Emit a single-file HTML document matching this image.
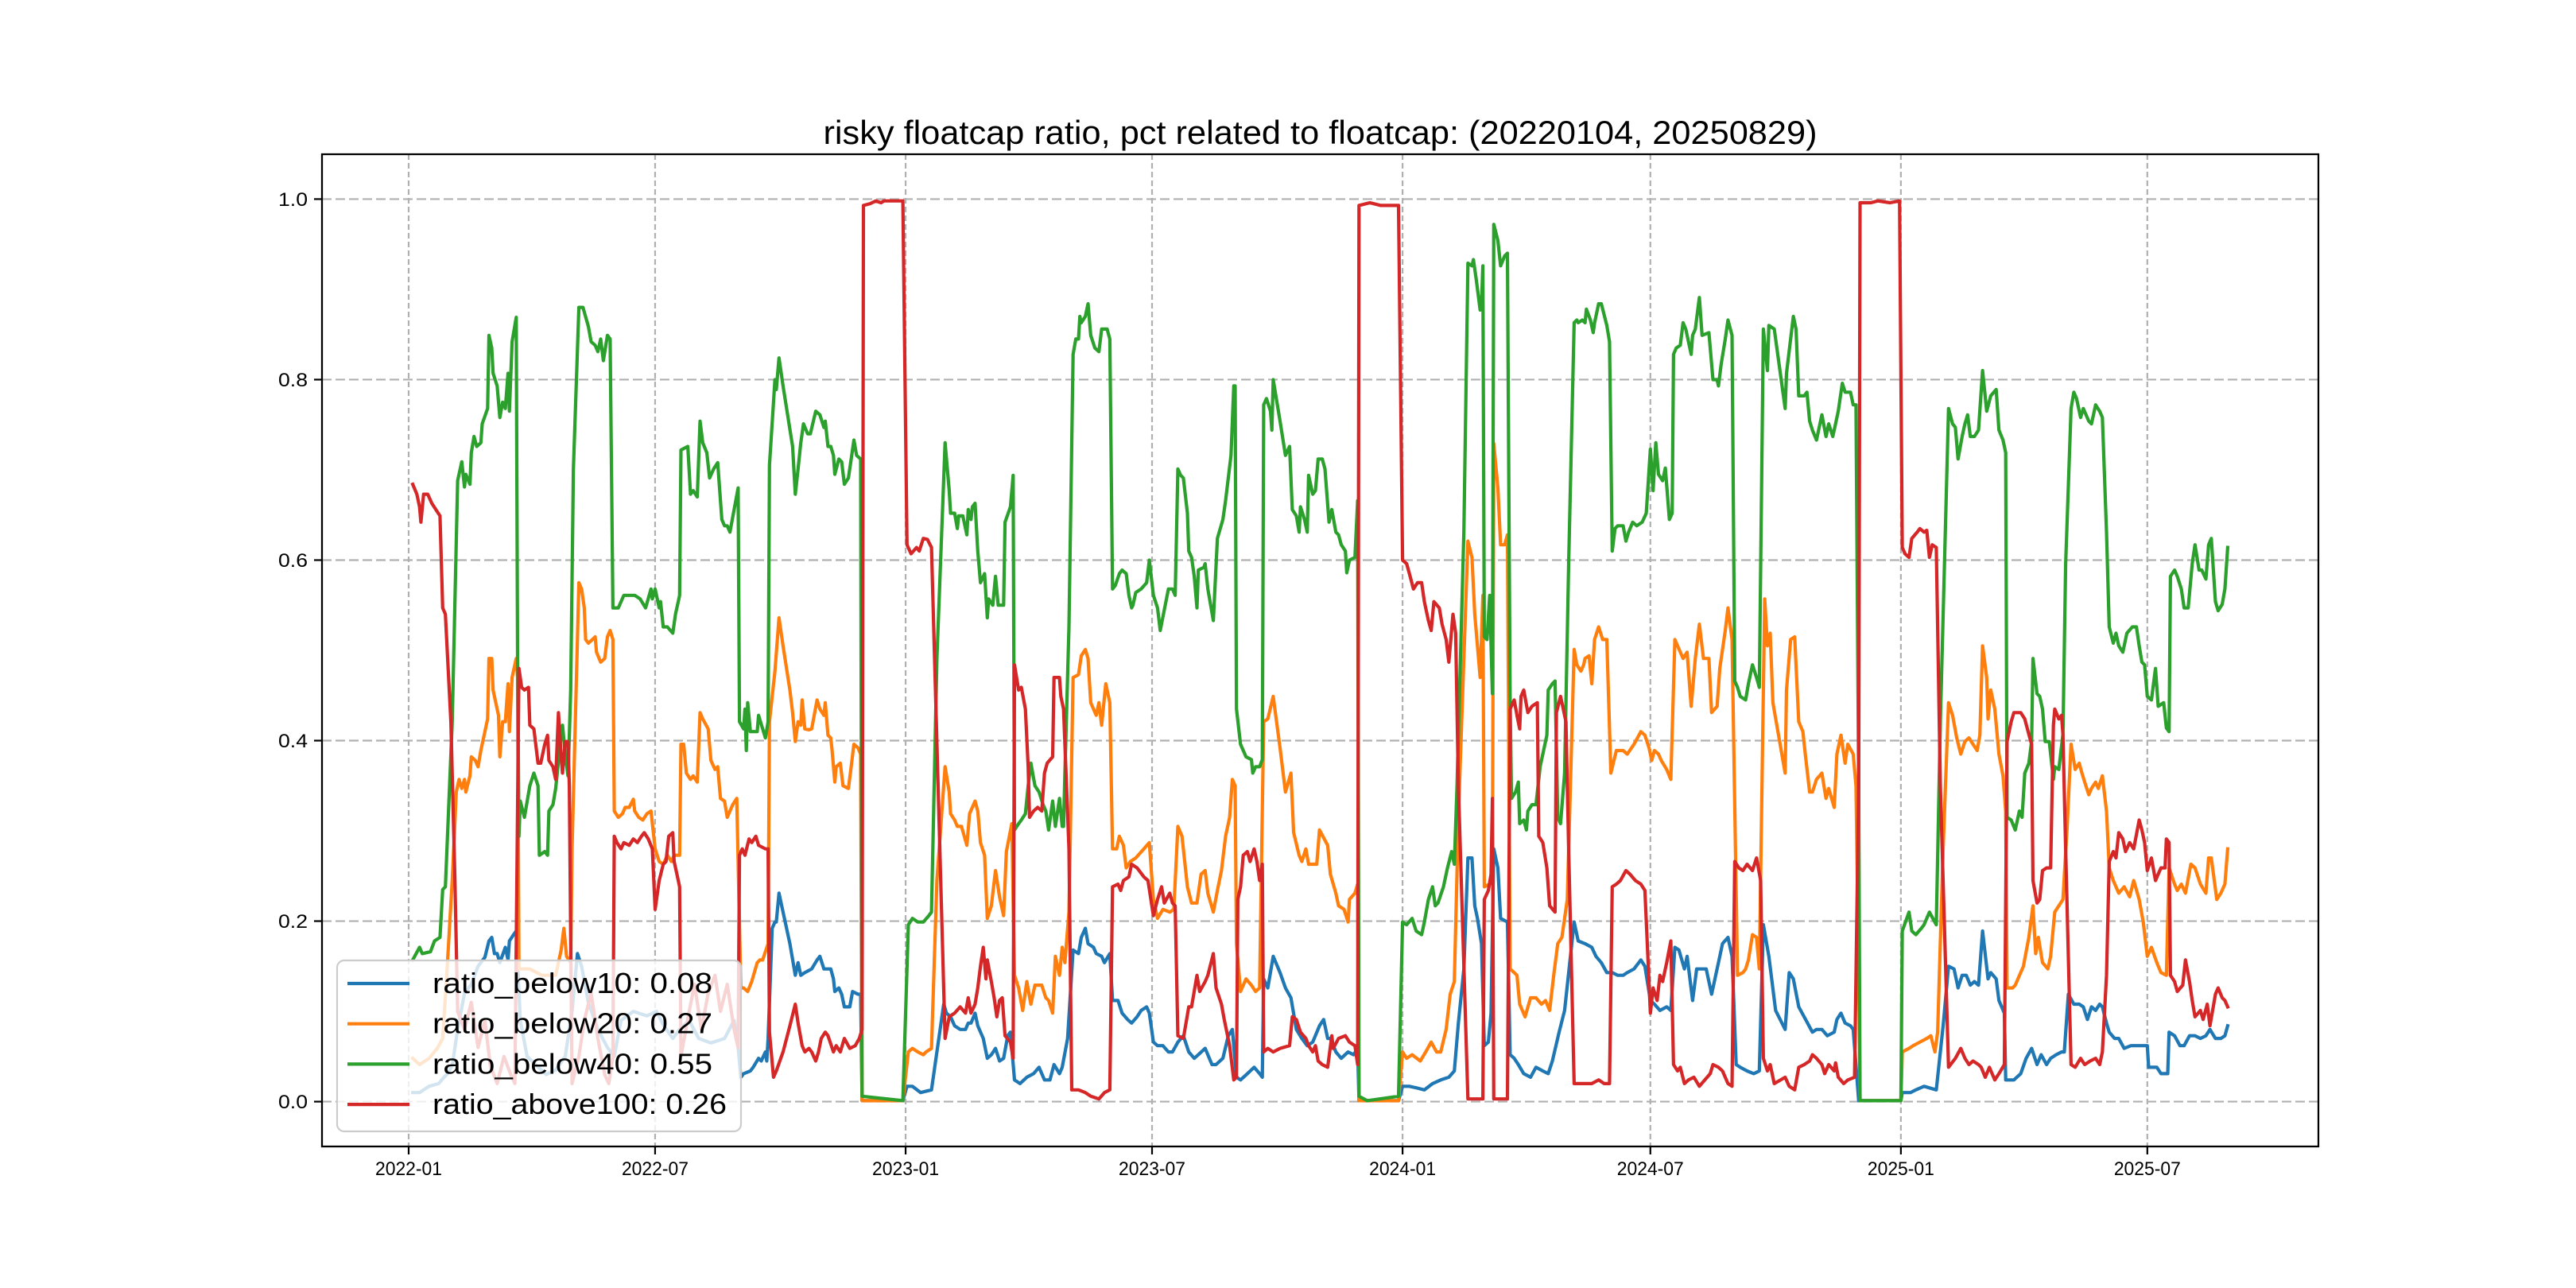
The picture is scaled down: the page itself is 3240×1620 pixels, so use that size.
<!DOCTYPE html>
<html>
<head>
<meta charset="utf-8">
<style>
html,body{margin:0;padding:0;background:#fff;}
svg{display:block;}
text{font-family:"Liberation Sans","Noto Sans CJK SC",sans-serif;fill:#000;}
</style>
</head>
<body>
<svg id="chart" xmlns="http://www.w3.org/2000/svg" width="3240" height="1620" viewBox="0 0 3240 1620">
<rect x="0" y="0" width="3240" height="1620" fill="#ffffff"/>
<defs><clipPath id="plotclip"><rect x="405" y="194" width="2511" height="1248"/></clipPath></defs>
<g id="grid"></g>
<g id="series" clip-path="url(#plotclip)"></g>
<rect x="405" y="194" width="2511" height="1248" fill="none" stroke="#000" stroke-width="2.25"/>
<g id="ticks"></g>
<text x="1660.5" y="181" font-size="42" text-anchor="middle" textLength="1250" lengthAdjust="spacingAndGlyphs">risky floatcap ratio, pct related to floatcap: (20220104, 20250829)</text>
<g id="legend"></g>
</svg>
<script>
const startDate = "2022-01-04";
const xTickLabels = ["2022-01","2022-07","2023-01","2023-07","2024-01","2024-07","2025-01","2025-07"];
const yTickValues = [0, 0.2, 0.4, 0.6, 0.8, 1.0];
const yTickLabels = ["0.0","0.2","0.4","0.6","0.8","1.0"];
const seriesNames = ["ratio_below10","ratio_below20","ratio_below40","ratio_above100"];
const legendValues = ["0.08","0.27","0.55","0.26"];
const seriesColors = ["#1f77b4","#ff7f0e","#2ca02c","#d62728"];

// [days since startDate, value]
const below10 = [[0,0.010],[5,0.010],[12,0.017],[19,0.020],[23,0.027],[25,0.03],[29,0.04],[33,0.08],[38,0.12],[43,0.13],[48,0.15],[53,0.16],[56,0.178],[58,0.182],[60,0.164],[62,0.164],[64,0.154],[68,0.171],[70,0.157],[71,0.178],[74,0.185],[76,0.189],[79,0.09],[84,0.05],[91,0.04],[98,0.03],[105,0.035],[112,0.05],[117,0.10],[121,0.164],[124,0.15],[129,0.11],[136,0.08],[143,0.06],[148,0.05],[153,0.09],[162,0.10],[172,0.095],[179,0.10],[184,0.085],[191,0.07],[196,0.08],[203,0.09],[210,0.07],[219,0.065],[229,0.07],[236,0.09],[239,0.06],[241,0.027],[243,0.031],[248,0.034],[250,0.038],[254,0.048],[256,0.045],[259,0.055],[260,0.045],[261,0.070],[264,0.192],[266,0.199],[267,0.199],[269,0.231],[272,0.210],[277,0.175],[281,0.140],[283,0.154],[285,0.140],[288,0.143],[293,0.147],[297,0.157],[299,0.161],[302,0.147],[307,0.147],[309,0.136],[310,0.122],[313,0.126],[315,0.119],[317,0.105],[321,0.105],[323,0.122],[327,0.119],[329,0.119],[330,0.001],[360,0.001],[363,0.017],[367,0.017],[373,0.010],[381,0.013],[385,0.055],[390,0.108],[392,0.098],[395,0.094],[398,0.084],[402,0.080],[406,0.080],[408,0.087],[410,0.087],[413,0.098],[415,0.084],[419,0.070],[422,0.048],[425,0.052],[428,0.059],[431,0.045],[434,0.048],[437,0.073],[439,0.077],[442,0.024],[446,0.020],[451,0.027],[456,0.031],[460,0.038],[464,0.024],[468,0.024],[471,0.041],[475,0.031],[477,0.038],[481,0.070],[485,0.168],[489,0.164],[491,0.182],[494,0.192],[496,0.175],[500,0.171],[502,0.164],[506,0.161],[508,0.154],[512,0.164],[514,0.112],[518,0.112],[521,0.098],[525,0.091],[528,0.087],[532,0.094],[535,0.101],[539,0.105],[541,0.098],[544,0.066],[547,0.062],[551,0.062],[555,0.055],[558,0.055],[562,0.066],[566,0.073],[570,0.055],[574,0.048],[577,0.052],[582,0.059],[587,0.041],[590,0.041],[595,0.048],[599,0.073],[602,0.080],[605,0.027],[608,0.024],[613,0.031],[618,0.038],[622,0.031],[624,0.027],[625,0.136],[628,0.126],[632,0.161],[637,0.143],[641,0.126],[645,0.115],[649,0.080],[653,0.070],[657,0.062],[661,0.066],[666,0.084],[669,0.091],[672,0.070],[674,0.070],[678,0.055],[682,0.048],[687,0.055],[691,0.052],[694,0.059],[695,0.001],[724,0.001],[727,0.017],[732,0.017],[738,0.015],[743,0.013],[749,0.020],[755,0.024],[761,0.027],[765,0.034],[768,0.087],[772,0.147],[775,0.270],[778,0.270],[780,0.217],[782,0.203],[785,0.175],[787,0.062],[790,0.066],[792,0.098],[794,0.280],[797,0.259],[799,0.203],[804,0.199],[806,0.052],[809,0.048],[812,0.041],[816,0.031],[821,0.027],[825,0.038],[830,0.034],[834,0.031],[837,0.045],[842,0.077],[846,0.101],[853,0.199],[856,0.178],[861,0.175],[866,0.171],[869,0.161],[873,0.154],[877,0.143],[881,0.143],[885,0.140],[889,0.140],[892,0.143],[897,0.147],[902,0.157],[905,0.150],[909,0.112],[912,0.108],[916,0.101],[921,0.105],[924,0.101],[927,0.171],[930,0.168],[934,0.147],[936,0.161],[940,0.112],[943,0.147],[947,0.147],[950,0.147],[954,0.119],[959,0.154],[962,0.175],[966,0.182],[969,0.161],[972,0.041],[975,0.038],[980,0.034],[985,0.031],[989,0.034],[992,0.196],[996,0.161],[1001,0.101],[1008,0.080],[1011,0.143],[1014,0.136],[1018,0.105],[1023,0.091],[1028,0.077],[1031,0.080],[1035,0.080],[1039,0.073],[1044,0.077],[1046,0.091],[1049,0.098],[1052,0.087],[1056,0.084],[1058,0.080],[1062,0.001],[1093,0.001],[1094,0.010],[1100,0.010],[1104,0.013],[1110,0.017],[1119,0.013],[1124,0.084],[1128,0.150],[1132,0.147],[1135,0.126],[1138,0.140],[1141,0.140],[1144,0.129],[1147,0.133],[1150,0.129],[1153,0.189],[1157,0.136],[1159,0.143],[1163,0.136],[1165,0.112],[1169,0.098],[1170,0.024],[1176,0.024],[1181,0.031],[1185,0.048],[1189,0.059],[1193,0.041],[1196,0.052],[1200,0.041],[1203,0.048],[1207,0.052],[1211,0.055],[1213,0.055],[1216,0.119],[1220,0.108],[1224,0.108],[1227,0.105],[1230,0.091],[1233,0.105],[1236,0.101],[1239,0.108],[1241,0.105],[1244,0.087],[1246,0.077],[1250,0.070],[1253,0.070],[1257,0.059],[1262,0.062],[1267,0.062],[1274,0.062],[1275,0.038],[1281,0.038],[1284,0.031],[1289,0.031],[1290,0.077],[1294,0.073],[1298,0.062],[1301,0.062],[1305,0.073],[1309,0.073],[1313,0.070],[1317,0.073],[1320,0.080],[1324,0.070],[1328,0.070],[1331,0.073],[1333,0.084]];

const below20 = [[0,0.048],[5,0.041],[12,0.048],[18,0.059],[22,0.070],[25,0.140],[29,0.245],[32,0.343],[34,0.357],[36,0.347],[38,0.357],[39,0.343],[42,0.361],[43,0.382],[46,0.378],[48,0.371],[50,0.389],[53,0.410],[55,0.424],[56,0.491],[58,0.491],[59,0.456],[61,0.442],[63,0.428],[64,0.382],[66,0.421],[68,0.421],[70,0.463],[71,0.410],[73,0.470],[76,0.491],[77,0.470],[78,0.147],[86,0.147],[95,0.140],[105,0.140],[109,0.168],[111,0.192],[113,0.161],[116,0.154],[117,0.280],[122,0.575],[124,0.568],[126,0.547],[127,0.512],[129,0.508],[132,0.512],[134,0.515],[135,0.498],[138,0.487],[141,0.491],[143,0.515],[145,0.522],[147,0.512],[148,0.322],[151,0.315],[154,0.319],[156,0.326],[159,0.326],[162,0.335],[163,0.322],[166,0.315],[169,0.312],[172,0.319],[175,0.322],[178,0.280],[181,0.266],[184,0.263],[187,0.273],[190,0.266],[192,0.273],[196,0.273],[197,0.396],[199,0.396],[201,0.364],[204,0.357],[206,0.361],[209,0.354],[211,0.431],[213,0.424],[217,0.413],[219,0.378],[222,0.368],[224,0.371],[226,0.336],[229,0.333],[231,0.315],[235,0.329],[238,0.336],[241,0.126],[243,0.126],[246,0.122],[249,0.133],[253,0.154],[255,0.157],[257,0.157],[261,0.175],[262,0.421],[266,0.477],[269,0.536],[272,0.505],[277,0.456],[279,0.431],[281,0.399],[283,0.421],[285,0.417],[286,0.445],[288,0.413],[291,0.412],[293,0.413],[297,0.445],[299,0.435],[302,0.428],[303,0.442],[305,0.406],[307,0.403],[308,0.389],[310,0.354],[311,0.371],[314,0.375],[316,0.350],[320,0.347],[322,0.371],[324,0.396],[327,0.392],[329,0.385],[330,0.001],[360,0.001],[364,0.055],[367,0.059],[371,0.055],[375,0.052],[377,0.055],[381,0.059],[385,0.245],[391,0.371],[394,0.343],[395,0.319],[398,0.312],[400,0.305],[403,0.305],[407,0.284],[409,0.319],[413,0.333],[415,0.322],[417,0.287],[420,0.273],[422,0.203],[425,0.217],[428,0.256],[431,0.227],[434,0.206],[436,0.277],[440,0.308],[442,0.140],[445,0.126],[448,0.101],[451,0.133],[454,0.108],[457,0.129],[462,0.129],[465,0.115],[467,0.112],[470,0.098],[472,0.161],[475,0.140],[477,0.171],[479,0.154],[482,0.210],[485,0.470],[489,0.473],[491,0.494],[494,0.501],[496,0.491],[498,0.442],[502,0.428],[504,0.442],[506,0.417],[509,0.463],[512,0.442],[514,0.280],[517,0.280],[519,0.294],[522,0.284],[524,0.259],[527,0.266],[531,0.270],[537,0.280],[541,0.287],[544,0.224],[547,0.203],[551,0.213],[556,0.210],[559,0.213],[562,0.305],[565,0.294],[569,0.238],[572,0.220],[576,0.220],[579,0.252],[582,0.256],[584,0.231],[588,0.210],[591,0.234],[594,0.256],[597,0.294],[600,0.315],[602,0.357],[604,0.350],[605,0.175],[608,0.122],[612,0.136],[616,0.129],[619,0.122],[622,0.126],[625,0.421],[628,0.424],[632,0.449],[637,0.392],[641,0.343],[645,0.364],[647,0.298],[651,0.273],[653,0.266],[656,0.280],[658,0.263],[660,0.263],[664,0.263],[666,0.301],[672,0.284],[674,0.252],[678,0.231],[680,0.217],[684,0.213],[687,0.199],[688,0.224],[692,0.231],[694,0.241],[695,0.001],[724,0.001],[727,0.055],[730,0.048],[734,0.052],[740,0.045],[744,0.055],[748,0.066],[752,0.055],[755,0.055],[759,0.080],[762,0.119],[765,0.133],[768,0.315],[772,0.491],[775,0.621],[778,0.603],[780,0.540],[782,0.505],[784,0.470],[786,0.561],[787,0.238],[791,0.241],[793,0.252],[794,0.729],[797,0.680],[799,0.617],[802,0.617],[804,0.628],[806,0.147],[809,0.143],[811,0.140],[813,0.108],[817,0.094],[821,0.115],[825,0.115],[829,0.108],[832,0.112],[835,0.101],[838,0.140],[841,0.175],[844,0.182],[848,0.224],[853,0.501],[855,0.484],[858,0.477],[860,0.484],[861,0.491],[864,0.494],[866,0.463],[868,0.512],[871,0.526],[874,0.512],[877,0.512],[880,0.364],[884,0.389],[889,0.389],[892,0.385],[897,0.396],[902,0.410],[905,0.406],[908,0.392],[910,0.378],[912,0.389],[915,0.385],[917,0.378],[921,0.368],[924,0.357],[927,0.512],[929,0.505],[933,0.491],[936,0.498],[939,0.438],[942,0.491],[945,0.529],[948,0.491],[952,0.491],[954,0.431],[958,0.438],[960,0.480],[964,0.522],[966,0.547],[969,0.512],[973,0.140],[977,0.143],[979,0.147],[981,0.157],[984,0.185],[987,0.182],[989,0.147],[993,0.557],[995,0.505],[997,0.519],[999,0.442],[1008,0.364],[1009,0.456],[1012,0.512],[1015,0.515],[1018,0.421],[1021,0.410],[1023,0.382],[1026,0.343],[1028,0.343],[1031,0.357],[1035,0.364],[1038,0.336],[1040,0.347],[1044,0.326],[1046,0.385],[1049,0.406],[1052,0.375],[1054,0.396],[1058,0.385],[1060,0.350],[1062,0.140],[1063,0.001],[1093,0.001],[1094,0.055],[1099,0.059],[1102,0.062],[1107,0.066],[1112,0.070],[1115,0.073],[1118,0.055],[1120,0.077],[1124,0.280],[1128,0.442],[1131,0.428],[1134,0.403],[1137,0.385],[1140,0.399],[1143,0.403],[1146,0.396],[1149,0.389],[1151,0.406],[1153,0.505],[1156,0.470],[1157,0.424],[1159,0.456],[1162,0.435],[1165,0.385],[1168,0.361],[1170,0.322],[1171,0.126],[1175,0.126],[1177,0.129],[1183,0.150],[1187,0.182],[1190,0.217],[1192,0.164],[1194,0.182],[1197,0.154],[1201,0.147],[1203,0.161],[1206,0.210],[1212,0.224],[1215,0.301],[1218,0.396],[1221,0.368],[1224,0.375],[1226,0.364],[1228,0.354],[1231,0.340],[1233,0.347],[1236,0.354],[1238,0.347],[1241,0.361],[1244,0.322],[1246,0.259],[1249,0.245],[1253,0.231],[1257,0.238],[1261,0.227],[1264,0.245],[1268,0.224],[1271,0.199],[1274,0.161],[1277,0.171],[1281,0.154],[1284,0.143],[1288,0.140],[1290,0.259],[1294,0.241],[1296,0.234],[1299,0.241],[1302,0.231],[1306,0.263],[1309,0.259],[1313,0.241],[1317,0.231],[1319,0.270],[1321,0.270],[1325,0.224],[1328,0.231],[1331,0.241],[1333,0.280]];

const below40 = [[0,0.157],[5,0.171],[7,0.164],[13,0.166],[16,0.178],[20,0.182],[22,0.235],[24,0.238],[29,0.421],[33,0.688],[36,0.709],[38,0.681],[39,0.695],[42,0.684],[43,0.719],[45,0.737],[47,0.726],[50,0.730],[51,0.751],[55,0.768],[56,0.849],[58,0.835],[59,0.807],[62,0.793],[64,0.758],[66,0.775],[68,0.768],[70,0.807],[71,0.765],[73,0.842],[76,0.869],[77,0.491],[78,0.294],[79,0.333],[82,0.315],[86,0.350],[89,0.364],[92,0.350],[93,0.273],[97,0.277],[99,0.273],[100,0.322],[103,0.329],[105,0.347],[109,0.406],[110,0.417],[112,0.385],[114,0.361],[115,0.406],[116,0.456],[118,0.701],[122,0.880],[125,0.880],[129,0.859],[131,0.842],[134,0.838],[136,0.831],[138,0.845],[140,0.821],[143,0.849],[145,0.845],[147,0.547],[151,0.547],[155,0.561],[159,0.561],[163,0.561],[167,0.557],[171,0.547],[175,0.568],[176,0.557],[178,0.568],[181,0.547],[182,0.554],[184,0.526],[187,0.526],[191,0.519],[193,0.540],[196,0.561],[197,0.722],[202,0.726],[204,0.673],[206,0.677],[209,0.670],[211,0.754],[213,0.730],[216,0.719],[218,0.691],[221,0.701],[224,0.708],[227,0.645],[229,0.638],[231,0.638],[233,0.631],[239,0.680],[240,0.421],[243,0.413],[244,0.435],[245,0.389],[246,0.442],[248,0.410],[253,0.410],[254,0.428],[259,0.403],[261,0.421],[262,0.705],[266,0.800],[267,0.789],[269,0.824],[272,0.793],[279,0.726],[281,0.673],[283,0.701],[285,0.730],[287,0.751],[290,0.740],[292,0.740],[296,0.765],[299,0.761],[302,0.747],[303,0.754],[305,0.726],[307,0.726],[309,0.716],[310,0.695],[313,0.712],[315,0.709],[317,0.684],[320,0.691],[322,0.712],[324,0.733],[326,0.716],[329,0.712],[330,0.006],[360,0.001],[364,0.196],[367,0.203],[371,0.199],[375,0.199],[379,0.206],[381,0.210],[385,0.491],[391,0.730],[394,0.677],[395,0.652],[398,0.652],[400,0.635],[401,0.649],[404,0.649],[407,0.628],[408,0.656],[410,0.645],[411,0.659],[413,0.663],[415,0.610],[417,0.575],[420,0.585],[422,0.536],[423,0.557],[426,0.550],[428,0.582],[430,0.550],[434,0.550],[435,0.642],[439,0.659],[441,0.694],[442,0.301],[445,0.308],[447,0.312],[450,0.319],[452,0.350],[454,0.375],[457,0.350],[460,0.343],[463,0.329],[465,0.322],[467,0.301],[470,0.333],[472,0.305],[475,0.336],[477,0.305],[478,0.305],[479,0.364],[482,0.526],[485,0.828],[487,0.845],[489,0.845],[490,0.870],[491,0.863],[494,0.870],[496,0.884],[498,0.849],[501,0.835],[504,0.831],[506,0.856],[510,0.856],[512,0.845],[514,0.568],[516,0.572],[519,0.585],[521,0.589],[524,0.585],[526,0.561],[528,0.547],[529,0.550],[531,0.564],[535,0.568],[539,0.575],[541,0.600],[544,0.561],[547,0.547],[549,0.522],[555,0.568],[558,0.568],[560,0.561],[562,0.701],[564,0.694],[566,0.691],[569,0.652],[570,0.610],[572,0.603],[574,0.582],[576,0.547],[577,0.589],[581,0.592],[582,0.596],[584,0.568],[588,0.533],[591,0.624],[595,0.645],[597,0.666],[599,0.691],[601,0.716],[603,0.793],[604,0.793],[605,0.435],[608,0.396],[612,0.382],[616,0.379],[617,0.364],[619,0.371],[622,0.371],[624,0.379],[625,0.772],[627,0.779],[630,0.765],[631,0.744],[632,0.800],[637,0.754],[641,0.716],[644,0.726],[646,0.656],[649,0.649],[651,0.631],[652,0.659],[655,0.645],[657,0.631],[658,0.694],[661,0.673],[663,0.677],[665,0.712],[668,0.712],[670,0.701],[673,0.642],[675,0.656],[678,0.631],[680,0.628],[682,0.617],[685,0.610],[686,0.586],[688,0.600],[692,0.603],[694,0.666],[695,0.006],[701,0.001],[724,0.006],[727,0.199],[730,0.196],[734,0.203],[737,0.189],[741,0.185],[743,0.199],[746,0.224],[749,0.238],[751,0.217],[753,0.220],[757,0.238],[760,0.259],[763,0.277],[765,0.263],[767,0.350],[772,0.631],[775,0.929],[778,0.926],[779,0.933],[781,0.912],[784,0.877],[785,0.884],[786,0.926],[787,0.515],[789,0.512],[791,0.561],[793,0.452],[794,0.972],[797,0.954],[799,0.926],[802,0.937],[804,0.940],[806,0.442],[807,0.336],[810,0.343],[812,0.354],[813,0.308],[816,0.312],[818,0.301],[819,0.322],[822,0.329],[825,0.329],[828,0.371],[830,0.385],[833,0.406],[834,0.456],[837,0.463],[839,0.466],[841,0.315],[843,0.308],[846,0.364],[849,0.596],[853,0.863],[855,0.866],[856,0.863],[859,0.866],[861,0.863],[862,0.878],[865,0.866],[867,0.852],[868,0.863],[871,0.884],[873,0.884],[877,0.860],[879,0.842],[881,0.610],[883,0.635],[885,0.638],[889,0.638],[891,0.621],[893,0.631],[896,0.642],[899,0.638],[903,0.642],[906,0.652],[909,0.723],[911,0.677],[913,0.730],[915,0.695],[918,0.688],[920,0.702],[923,0.645],[925,0.652],[926,0.828],[928,0.835],[931,0.838],[933,0.863],[935,0.856],[937,0.842],[939,0.828],[940,0.849],[942,0.856],[945,0.891],[947,0.849],[952,0.852],[955,0.800],[958,0.800],[959,0.793],[961,0.817],[964,0.845],[966,0.866],[969,0.849],[971,0.466],[973,0.459],[975,0.449],[979,0.445],[981,0.463],[984,0.484],[987,0.470],[989,0.459],[992,0.856],[995,0.810],[996,0.860],[1000,0.856],[1008,0.768],[1009,0.807],[1014,0.870],[1016,0.856],[1018,0.782],[1022,0.782],[1024,0.786],[1026,0.754],[1028,0.744],[1031,0.733],[1035,0.761],[1038,0.737],[1040,0.751],[1043,0.737],[1045,0.751],[1047,0.765],[1050,0.796],[1052,0.786],[1056,0.786],[1058,0.772],[1060,0.772],[1062,0.350],[1063,0.001],[1093,0.001],[1094,0.189],[1099,0.210],[1101,0.189],[1104,0.185],[1108,0.192],[1110,0.196],[1114,0.210],[1119,0.196],[1122,0.421],[1128,0.768],[1131,0.751],[1133,0.747],[1135,0.712],[1138,0.737],[1140,0.751],[1142,0.761],[1144,0.737],[1147,0.737],[1150,0.744],[1153,0.810],[1156,0.765],[1159,0.782],[1163,0.789],[1165,0.744],[1168,0.733],[1170,0.719],[1171,0.315],[1174,0.312],[1177,0.301],[1180,0.322],[1182,0.315],[1184,0.364],[1187,0.375],[1189,0.399],[1190,0.491],[1193,0.452],[1195,0.449],[1197,0.435],[1199,0.399],[1202,0.399],[1205,0.357],[1206,0.371],[1209,0.368],[1212,0.407],[1214,0.596],[1218,0.768],[1220,0.786],[1222,0.779],[1225,0.758],[1227,0.768],[1231,0.754],[1233,0.751],[1236,0.772],[1239,0.765],[1241,0.758],[1244,0.631],[1246,0.526],[1249,0.508],[1251,0.519],[1253,0.505],[1256,0.498],[1259,0.519],[1263,0.526],[1266,0.526],[1268,0.505],[1270,0.487],[1272,0.484],[1274,0.449],[1277,0.445],[1280,0.480],[1282,0.438],[1286,0.442],[1288,0.414],[1290,0.410],[1291,0.582],[1294,0.589],[1296,0.582],[1299,0.568],[1301,0.547],[1304,0.547],[1307,0.596],[1309,0.617],[1312,0.589],[1314,0.589],[1317,0.579],[1319,0.617],[1321,0.624],[1324,0.554],[1326,0.544],[1329,0.551],[1331,0.568],[1333,0.614]];

const above100 = [[0,0.684],[3,0.673],[5,0.659],[6,0.642],[8,0.673],[11,0.673],[14,0.663],[17,0.656],[20,0.649],[22,0.547],[24,0.540],[28,0.421],[31,0.245],[33,0.10],[38,0.08],[43,0.11],[48,0.06],[53,0.09],[57,0.04],[62,0.02],[67,0.05],[72,0.03],[75,0.02],[78,0.480],[80,0.459],[82,0.456],[85,0.459],[86,0.417],[89,0.413],[92,0.375],[94,0.375],[97,0.396],[99,0.406],[100,0.378],[103,0.371],[105,0.357],[107,0.431],[109,0.382],[110,0.364],[112,0.399],[114,0.399],[115,0.350],[117,0.02],[122,0.05],[126,0.09],[131,0.12],[136,0.07],[141,0.03],[144,0.02],[147,0.05],[148,0.294],[150,0.287],[153,0.280],[155,0.287],[159,0.284],[162,0.291],[165,0.287],[168,0.294],[170,0.298],[173,0.291],[176,0.280],[178,0.213],[181,0.245],[184,0.263],[186,0.266],[188,0.294],[191,0.298],[192,0.266],[194,0.252],[196,0.238],[197,0.05],[203,0.10],[207,0.13],[212,0.08],[217,0.12],[222,0.14],[226,0.10],[231,0.13],[236,0.08],[239,0.06],[240,0.273],[242,0.280],[244,0.273],[247,0.291],[249,0.287],[252,0.294],[254,0.284],[259,0.280],[261,0.280],[262,0.077],[265,0.027],[267,0.034],[272,0.055],[277,0.084],[281,0.108],[283,0.087],[286,0.062],[288,0.055],[291,0.059],[293,0.055],[296,0.045],[298,0.055],[300,0.070],[303,0.077],[305,0.073],[309,0.055],[311,0.062],[314,0.055],[317,0.070],[321,0.059],[325,0.062],[328,0.070],[330,0.080],[331,0.993],[336,0.995],[340,0.998],[344,0.996],[346,0.998],[360,0.998],[363,0.617],[366,0.607],[370,0.614],[372,0.610],[375,0.624],[378,0.623],[381,0.614],[391,0.070],[394,0.094],[398,0.098],[402,0.105],[406,0.098],[408,0.115],[410,0.098],[413,0.108],[415,0.126],[417,0.150],[419,0.171],[421,0.136],[422,0.157],[425,0.133],[427,0.115],[429,0.094],[431,0.112],[433,0.115],[435,0.073],[439,0.066],[441,0.048],[442,0.484],[445,0.456],[447,0.459],[450,0.435],[452,0.371],[453,0.315],[456,0.322],[459,0.326],[462,0.322],[464,0.364],[466,0.375],[470,0.382],[471,0.470],[475,0.470],[476,0.449],[478,0.435],[482,0.280],[484,0.013],[489,0.013],[494,0.010],[498,0.006],[504,0.003],[508,0.010],[512,0.013],[514,0.238],[518,0.241],[520,0.234],[522,0.245],[526,0.249],[528,0.263],[532,0.259],[537,0.249],[540,0.245],[544,0.206],[547,0.224],[550,0.238],[552,0.220],[556,0.231],[558,0.220],[560,0.217],[562,0.073],[566,0.070],[570,0.105],[572,0.105],[576,0.140],[578,0.122],[582,0.133],[584,0.140],[588,0.164],[590,0.126],[594,0.108],[596,0.091],[600,0.062],[603,0.024],[605,0.027],[606,0.224],[608,0.238],[610,0.273],[613,0.277],[615,0.266],[618,0.280],[620,0.266],[622,0.245],[624,0.263],[625,0.055],[628,0.059],[632,0.055],[637,0.059],[644,0.062],[646,0.094],[649,0.091],[652,0.077],[656,0.070],[658,0.062],[661,0.055],[663,0.062],[665,0.045],[668,0.041],[672,0.038],[675,0.073],[676,0.059],[680,0.070],[685,0.073],[688,0.066],[692,0.062],[694,0.041],[695,0.993],[703,0.996],[711,0.993],[724,0.993],[727,0.600],[730,0.596],[732,0.585],[735,0.568],[738,0.575],[741,0.575],[743,0.554],[746,0.533],[748,0.522],[750,0.554],[754,0.547],[756,0.529],[759,0.512],[761,0.487],[764,0.540],[766,0.519],[768,0.350],[775,0.003],[786,0.003],[787,0.224],[790,0.234],[792,0.252],[793,0.336],[794,0.003],[804,0.003],[806,0.435],[809,0.445],[811,0.428],[813,0.413],[814,0.449],[816,0.456],[819,0.431],[822,0.438],[826,0.442],[827,0.294],[830,0.287],[833,0.259],[835,0.217],[839,0.210],[840,0.431],[843,0.449],[844,0.442],[847,0.421],[849,0.280],[853,0.020],[861,0.020],[866,0.020],[871,0.024],[875,0.020],[879,0.020],[881,0.238],[884,0.241],[887,0.245],[891,0.256],[894,0.252],[898,0.245],[902,0.241],[905,0.234],[909,0.098],[911,0.126],[914,0.112],[916,0.140],[918,0.133],[921,0.154],[924,0.178],[926,0.041],[929,0.034],[931,0.038],[934,0.020],[937,0.024],[941,0.027],[945,0.017],[949,0.024],[953,0.031],[955,0.041],[959,0.038],[962,0.034],[966,0.020],[969,0.017],[971,0.266],[974,0.259],[977,0.256],[980,0.263],[984,0.256],[987,0.270],[990,0.245],[992,0.048],[995,0.034],[997,0.041],[1000,0.020],[1008,0.027],[1011,0.017],[1015,0.013],[1018,0.038],[1022,0.041],[1026,0.045],[1028,0.052],[1031,0.048],[1035,0.041],[1037,0.031],[1040,0.041],[1044,0.034],[1045,0.043],[1047,0.027],[1051,0.020],[1054,0.024],[1059,0.027],[1062,0.350],[1063,0.996],[1071,0.996],[1076,0.998],[1085,0.996],[1092,0.998],[1094,0.614],[1096,0.607],[1099,0.603],[1101,0.624],[1105,0.631],[1107,0.635],[1110,0.631],[1112,0.633],[1114,0.603],[1116,0.617],[1119,0.614],[1122,0.350],[1128,0.038],[1133,0.048],[1137,0.059],[1140,0.048],[1143,0.041],[1146,0.045],[1150,0.041],[1152,0.038],[1155,0.027],[1158,0.038],[1162,0.024],[1165,0.031],[1169,0.041],[1171,0.399],[1174,0.421],[1176,0.431],[1181,0.431],[1184,0.424],[1187,0.407],[1189,0.396],[1190,0.245],[1193,0.220],[1195,0.224],[1197,0.256],[1200,0.259],[1203,0.259],[1205,0.417],[1206,0.435],[1209,0.424],[1211,0.428],[1212,0.407],[1214,0.280],[1218,0.041],[1221,0.038],[1225,0.048],[1228,0.041],[1232,0.045],[1236,0.048],[1239,0.041],[1241,0.055],[1244,0.140],[1246,0.266],[1249,0.277],[1251,0.270],[1253,0.298],[1256,0.291],[1258,0.277],[1261,0.287],[1264,0.280],[1268,0.312],[1270,0.301],[1272,0.287],[1274,0.256],[1277,0.270],[1280,0.245],[1282,0.252],[1284,0.259],[1287,0.259],[1288,0.291],[1290,0.287],[1291,0.140],[1294,0.133],[1296,0.122],[1300,0.129],[1302,0.157],[1305,0.133],[1307,0.112],[1309,0.094],[1313,0.101],[1315,0.091],[1318,0.108],[1320,0.084],[1324,0.119],[1326,0.126],[1329,0.115],[1331,0.112],[1333,0.105]];

const seriesData = [below10, below20, below40, above100];

// ---- axis geometry ----
const AX_L = 405, AX_R = 2916, AX_T = 194, AX_B = 1442;
const DAY_MIN = -66.65, DAY_MAX = 1399.65;
const V_MIN = -0.0497, V_MAX = 1.0497;
const SVGNS = "http://www.w3.org/2000/svg";
function xScale(d){ return AX_L + (d - DAY_MIN) / (DAY_MAX - DAY_MIN) * (AX_R - AX_L); }
function yScale(v){ return AX_B - (v - V_MIN) / (V_MAX - V_MIN) * (AX_B - AX_T); }
function dayOf(label){
  const p = label.split("-");
  const s = startDate.split("-");
  return (Date.UTC(+p[0], +p[1]-1, p[2] ? +p[2] : 1) - Date.UTC(+s[0], +s[1]-1, +s[2])) / 86400000;
}
function mk(tag, attrs, parent){
  const el = document.createElementNS(SVGNS, tag);
  for (const k in attrs) el.setAttribute(k, attrs[k]);
  parent.appendChild(el);
  return el;
}

const gridG = document.getElementById("grid");
const ticksG = document.getElementById("ticks");
const seriesG = document.getElementById("series");
const legendG = document.getElementById("legend");

// x grid + ticks
xTickLabels.forEach(function(lbl){
  const x = xScale(dayOf(lbl));
  const gl = mk("line", {x1:x, x2:x, y1:AX_T, y2:AX_B, stroke:"#b0b0b0", "stroke-width":2.2, "stroke-dasharray":"7,4"}, gridG);
  
  
  const tk = mk("line", {x1:x, x2:x, y1:AX_B, y2:AX_B+10, stroke:"#000", "stroke-width":2.2}, ticksG);
  
  
  const t = mk("text", {x:x, y:1478, "font-size":24, "text-anchor":"middle", textLength:84, lengthAdjust:"spacingAndGlyphs"}, ticksG);
  t.textContent = lbl;
  
  
});

// y grid + ticks
yTickValues.forEach(function(v, i){
  const y = yScale(v);
  const gl = mk("line", {x1:AX_L, x2:AX_R, y1:y, y2:y, stroke:"#b0b0b0", "stroke-width":2.2, "stroke-dasharray":"12,5"}, gridG);
  
  
  const tk = mk("line", {x1:AX_L-10, x2:AX_L, y1:y, y2:y, stroke:"#000", "stroke-width":2.2}, ticksG);
  
  
  const t = mk("text", {x:387, y:y+8.5, "font-size":24, "text-anchor":"end", textLength:37, lengthAdjust:"spacingAndGlyphs"}, ticksG);
  t.textContent = yTickLabels[i];
  
  
});

// series lines
seriesData.forEach(function(pts, i){
  const d = pts.map(function(p, j){ return (j ? "L" : "M") + xScale(p[0]).toFixed(1) + "," + yScale(p[1]).toFixed(1); }).join(" ");
  const path = mk("path", {d:d, fill:"none", stroke:seriesColors[i], "stroke-width":4.2, "stroke-linejoin":"round", "stroke-linecap":"square"}, seriesG);
  
  
});

// legend
const lbox = mk("rect", {x:424, y:1208, width:508, height:215, rx:9, ry:9, fill:"#ffffff", "fill-opacity":0.8, stroke:"#cccccc", "stroke-width":2.2}, legendG);


seriesNames.forEach(function(name, i){
  const ry = 1237 + i * 50.7;
  const entry = mk("g", {}, legendG);
  
  
  const ln = mk("line", {x1:437, x2:515, y1:ry, y2:ry, stroke:seriesColors[i], "stroke-width":4.2}, entry);
  
  
  const label = name + ": " + legendValues[i];
  const t = mk("text", {x:544, y:ry+12, "font-size":36, textLength: (label.length * 18.5).toFixed(0), lengthAdjust:"spacingAndGlyphs"}, entry);
  t.textContent = label;
  
  
});
</script>
</body>
</html>
